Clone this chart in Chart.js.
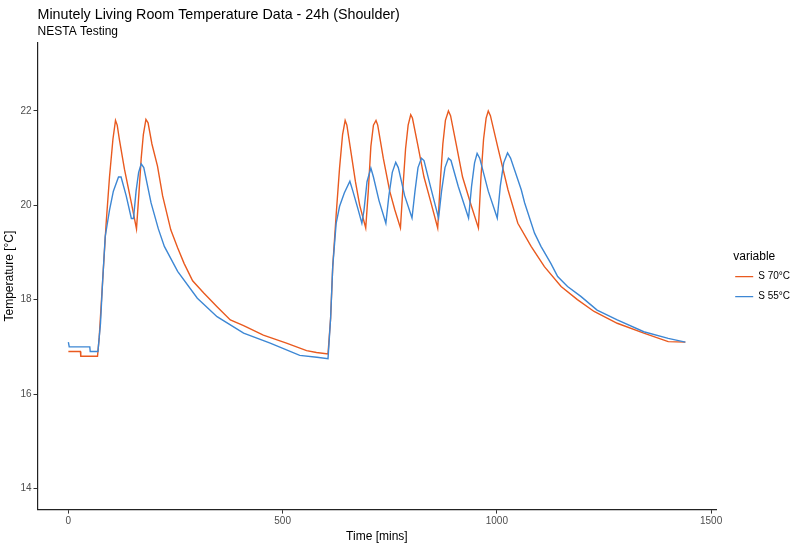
<!DOCTYPE html>
<html>
<head>
<meta charset="utf-8">
<script src="https://cdn.jsdelivr.net/npm/chart.js@4"></script>
<style>
  html, body { margin: 0; padding: 0; background: #fff; }
  #wrap { width: 800px; height: 544px; }
</style>
</head>
<body>
<div id="wrap"><canvas id="tempChart"></canvas></div>
<script>
// Key points (minutes, °C)
const s70Time = [0, 28, 29, 68, 72, 80, 88, 96, 104, 110, 114, 119, 131, 147, 159, 165, 170, 175, 181, 186, 195, 208, 220, 239, 255, 270, 290, 316, 347, 378, 409, 455, 509, 556, 579, 606,
  612, 617, 625, 633, 640, 646, 650, 660, 670, 680, 694, 700, 706, 712, 718, 722, 735, 750, 762, 775, 781, 787, 793, 799, 803, 815, 830, 845, 862,
  868, 874, 880, 887, 892, 905, 920, 940, 957, 963, 969, 975, 980, 985, 1003, 1026, 1049, 1080, 1111, 1150, 1188, 1227, 1281, 1343, 1400, 1440];
const s70Temp = [16.9, 16.9, 16.8, 16.8, 17.2, 18.4, 19.6, 20.6, 21.4, 21.8, 21.7, 21.4, 20.76, 20.05, 19.5, 20.3, 21.0, 21.5, 21.82, 21.75, 21.3, 20.83, 20.2, 19.48, 19.1, 18.77, 18.4, 18.14, 17.85, 17.57, 17.45, 17.25, 17.08, 16.92, 16.88, 16.85,
  17.6, 18.7, 19.8, 20.8, 21.5, 21.8, 21.7, 21.1, 20.5, 20.0, 19.52, 20.3, 21.25, 21.7, 21.8, 21.7, 21.0, 20.3, 19.9, 19.52, 20.4, 21.2, 21.7, 21.92, 21.85, 21.3, 20.6, 20.1, 19.52,
  20.5, 21.3, 21.8, 22.0, 21.9, 21.3, 20.6, 20.0, 19.52, 20.6, 21.4, 21.85, 22.0, 21.9, 21.2, 20.33, 19.62, 19.13, 18.7, 18.28, 18.0, 17.75, 17.5, 17.29, 17.11, 17.1];

const s55Time = [0, 2, 50, 51, 69, 75, 80, 86, 96, 105, 117, 123, 135, 147, 152, 158, 164, 170, 176, 193, 210, 224, 255, 301, 347, 409, 471, 540, 580, 606,
  612, 617, 625, 633, 644, 657, 664, 675, 685, 690, 697, 706, 712, 725, 741, 748, 756, 764, 770, 785, 802, 809, 816, 824, 830, 845, 864,
  871, 879, 887, 893, 910, 934, 941, 948, 954, 960, 980, 1001, 1008, 1016, 1025, 1032, 1057, 1065, 1088, 1103, 1126, 1142, 1165, 1196, 1234, 1281, 1343, 1400, 1440];
const s55Temp = [17.1, 17.0, 17.0, 16.9, 16.9, 17.5, 18.4, 19.34, 19.9, 20.3, 20.6, 20.6, 20.2, 19.72, 19.72, 20.3, 20.7, 20.88, 20.8, 20.05, 19.5, 19.13, 18.6, 18.03, 17.64, 17.29, 17.08, 16.82, 16.78, 16.75,
  17.6, 18.7, 19.62, 19.98, 20.26, 20.51, 20.3, 19.95, 19.62, 19.9, 20.5, 20.79, 20.6, 20.1, 19.62, 20.2, 20.7, 20.91, 20.8, 20.2, 19.73, 20.3, 20.8, 21.0, 20.95, 20.4, 19.73,
  20.3, 20.8, 21.0, 20.95, 20.4, 19.73, 20.4, 20.9, 21.1, 21.0, 20.3, 19.73, 20.4, 20.9, 21.11, 21.0, 20.33, 20.05, 19.41, 19.13, 18.77, 18.49, 18.28, 18.07, 17.78, 17.57, 17.32, 17.18, 17.1];

const seriesNames = ['S 70°C', 'S 55°C'];
const legendTitle = 'variable';
const xTicks = [0, 500, 1000, 1500];
const yTicks = [14, 16, 18, 20, 22];

const toPoints = (ts, vs) => ts.map((t, i) => ({ x: t, y: vs[i] }));
const FONT = 'Liberation Sans, Arial, sans-serif';

// the built-in legend title only sits flush left or centred; draw it a few px in instead
const legendTitlePlugin = {
    id: 'legendTitleText',
    afterDraw(chart) {
        const lg = chart.legend;
        if (!lg || !lg.legendHitBoxes || !lg.legendHitBoxes.length) return;
        const ctx = chart.ctx;
        ctx.save();
        ctx.font = `12px ${FONT}`;
        ctx.fillStyle = '#000';
        ctx.textAlign = 'left';
        ctx.textBaseline = 'middle';
        ctx.fillText(legendTitle, lg.left + 8, lg.legendHitBoxes[0].top - 15);
        ctx.restore();
    }
};

new Chart(document.getElementById('tempChart'), {
    type: 'line',
    data: {
        datasets: [{
            label: seriesNames[0],
            data: toPoints(s70Time, s70Temp),
            borderColor: '#E95A1F',
            backgroundColor: '#E95A1F',
            borderWidth: 1.4,
            pointRadius: 0,
            tension: 0,
            order: 1
        }, {
            label: seriesNames[1],
            data: toPoints(s55Time, s55Temp),
            borderColor: '#3D87D4',
            backgroundColor: '#3D87D4',
            borderWidth: 1.4,
            pointRadius: 0,
            tension: 0,
            order: 0 // drawn on top, like the reference
        }]
    },
    plugins: [legendTitlePlugin],
    options: {
        responsive: true,
        maintainAspectRatio: false,
        animation: false,
        layout: { padding: { left: 2, right: 0, top: 0, bottom: 0 } },
        scales: {
            x: {
                type: 'linear',
                min: -72,
                max: 1512,
                afterBuildTicks: (scale) => { scale.ticks = xTicks.map(v => ({ value: v })); },
                border: { display: true, color: '#222', width: 1.2 },
                grid: { display: true, drawOnChartArea: false, drawTicks: true, tickLength: 4, tickColor: '#333' },
                ticks: { color: '#4D4D4D', font: { family: FONT, size: 10 }, padding: 2, maxRotation: 0, callback: v => String(v) },
                title: { display: true, text: 'Time [mins]', color: '#000', font: { family: FONT, size: 12 }, padding: { top: 0, bottom: 0 } }
            },
            y: {
                min: 13.55,
                max: 23.45,
                afterBuildTicks: (scale) => { scale.ticks = yTicks.map(v => ({ value: v })); },
                border: { display: true, color: '#222', width: 1.2 },
                grid: { display: true, drawOnChartArea: false, drawTicks: true, tickLength: 4, tickColor: '#333' },
                ticks: { color: '#4D4D4D', font: { family: FONT, size: 10 }, padding: 2, callback: v => String(v) },
                title: { display: true, text: 'Temperature [°C]', color: '#000', font: { family: FONT, size: 12 }, padding: { top: 0, bottom: 2 } }
            },
            // empty spacer between plot and legend
            gap: {
                type: 'linear',
                axis: 'y',
                position: 'right',
                display: true,
                border: { display: false },
                grid: { display: false },
                ticks: { display: false },
                afterFit: (scale) => { scale.width = 9; }
            }
        },
        plugins: {
            title: {
                display: true,
                text: 'Minutely Living Room Temperature Data - 24h (Shoulder)',
                align: 'start',
                fullSize: false,
                color: '#000',
                font: { family: FONT, size: 14.3, weight: 'normal' },
                padding: { top: 6, bottom: 1 }
            },
            subtitle: {
                display: true,
                text: 'NESTA Testing',
                align: 'start',
                fullSize: false,
                color: '#000',
                font: { family: FONT, size: 12 },
                padding: { top: 0, bottom: 4 }
            },
            legend: {
                position: 'right',
                align: 'center',
                fullSize: false,
                title: {
                    // keeps the space; visible text is drawn by legendTitlePlugin
                    display: true,
                    text: legendTitle,
                    color: 'rgba(0,0,0,0)',
                    font: { family: FONT, size: 12, lineHeight: 0.92 },
                    position: 'start',
                    padding: { top: 10, bottom: 0 }
                },
                labels: {
                    sort: (a, b) => a.datasetIndex - b.datasetIndex,
                    usePointStyle: true,
                    pointStyle: 'line',
                    pointStyleWidth: 18,
                    color: '#000',
                    font: { family: FONT, size: 10 },
                    padding: 10
                }
            },
            tooltip: { enabled: false }
        }
    }
});
</script>
</body>
</html>
